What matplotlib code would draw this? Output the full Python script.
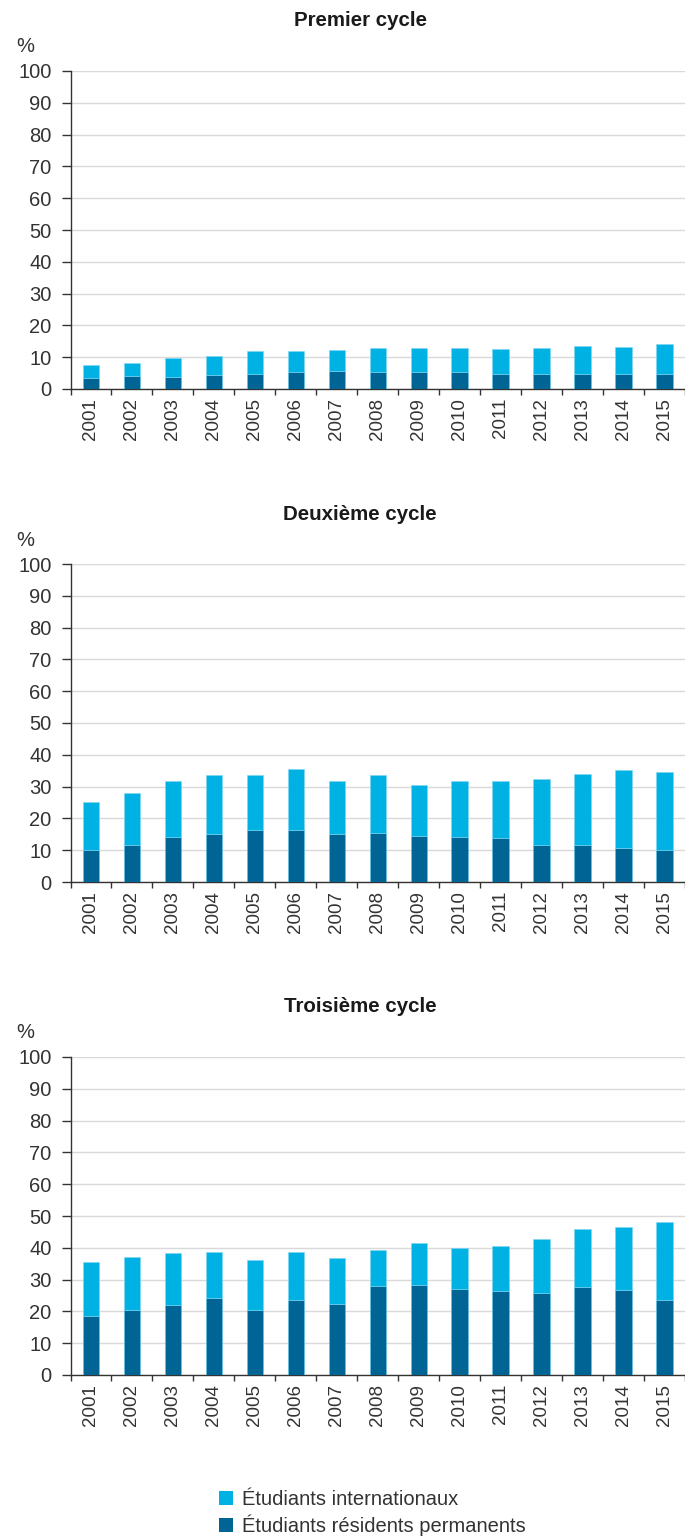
import numpy as np
import matplotlib
matplotlib.use("Agg")
import matplotlib.pyplot as plt
from matplotlib.patches import Patch

plt.rcParams['font.family'] = ['Liberation Sans', 'DejaVu Sans']

# Données (%)
years = [str(y) for y in range(2001, 2016)]

premier_total = [7.5, 8.2, 9.7, 10.3, 11.8, 12.1, 12.3, 12.8, 12.8, 12.8, 12.6, 12.8, 13.6, 13.2, 14.0]
premier_res = [3.6, 4.2, 3.9, 4.4, 4.7, 5.2, 5.6, 5.5, 5.5, 5.2, 4.7, 4.7, 4.6, 4.7, 4.8]

deuxieme_total = [25.2, 28.1, 31.7, 33.5, 33.5, 35.6, 31.9, 33.5, 30.6, 31.8, 31.8, 32.4, 34.0, 35.3, 34.6]
deuxieme_res = [10.2, 11.7, 14.0, 15.2, 16.5, 16.2, 15.2, 15.3, 14.6, 14.0, 13.7, 11.5, 11.7, 10.8, 10.0]

troisieme_total = [35.6, 37.2, 38.3, 38.8, 36.1, 38.8, 36.7, 39.4, 41.5, 39.9, 40.6, 42.7, 45.9, 46.4, 48.0]
troisieme_res = [18.6, 20.4, 22.0, 24.2, 20.4, 23.7, 22.3, 28.0, 28.4, 27.0, 26.4, 25.8, 27.8, 26.7, 23.6]

titles = ["Premier cycle", "Deuxième cycle", "Troisième cycle"]
totals = [premier_total, deuxieme_total, troisieme_total]
residents = [premier_res, deuxieme_res, troisieme_res]

light = "#00b2e3"
dark = "#006594"
txt = "#333333"

fig = plt.figure(figsize=(6.85, 15.36), dpi=100)

W, H = 685, 1536
tops = [71, 564, 1057]
ax_h = 318

x = np.arange(len(years))
for i in range(3):
    top = tops[i]
    ax = fig.add_axes([70.5 / W, 1 - (top + ax_h) / H, (685 - 70.5) / W, ax_h / H])
    res = np.array(residents[i])
    intl = np.array(totals[i]) - res
    ax.bar(x, res, width=0.4, color=dark, edgecolor="#5cc6ea", linewidth=0.4, zorder=3)
    ax.bar(x, intl, bottom=res, width=0.4, color=light, edgecolor="#7fd6f0", linewidth=0.4, zorder=3)

    ax.set_xlim(-0.5, 14.5)
    ax.set_ylim(0, 100)
    ax.set_yticks(range(0, 101, 10))
    ax.yaxis.grid(True, color="#d9d9d9", linewidth=1.0, zorder=0)
    ax.set_axisbelow(True)

    ax.set_xticks(x)
    ax.set_xticklabels(years, rotation=90, fontsize=13.5, color=txt)
    ax.set_xticks(np.arange(-0.5, 15, 1), minor=True)
    ax.tick_params(axis="x", which="major", length=0, pad=6.5)
    ax.tick_params(axis="x", which="minor", length=4.5, width=1, color=txt)
    ax.tick_params(axis="y", length=6.5, width=1, color=txt, labelsize=14.5,
                   labelcolor=txt, pad=7)

    for s in ["top", "right"]:
        ax.spines[s].set_visible(False)
    for s in ["left", "bottom"]:
        ax.spines[s].set_color(txt)
        ax.spines[s].set_linewidth(1)

    fig.text(360 / W, 1 - (top - 50) / H, titles[i], ha="center", va="center",
             fontsize=14.8, fontweight="bold", color="#1a1a1a")
    fig.text(25 / W, 1 - (top - 24) / H, "%", ha="center", va="center",
             fontsize=14.5, color=txt)

handles = [Patch(facecolor=light, label="Étudiants internationaux"),
           Patch(facecolor=dark, label="Étudiants résidents permanents")]
fig.legend(handles=handles, loc="upper left", bbox_to_anchor=(209 / W, 1 - 1480 / H),
           frameon=False, fontsize=14.5, handlelength=0.7, handleheight=0.7,
           handletextpad=0.45, labelspacing=0.25, labelcolor=txt, borderpad=0)

fig.savefig("out.png", dpi=100)
